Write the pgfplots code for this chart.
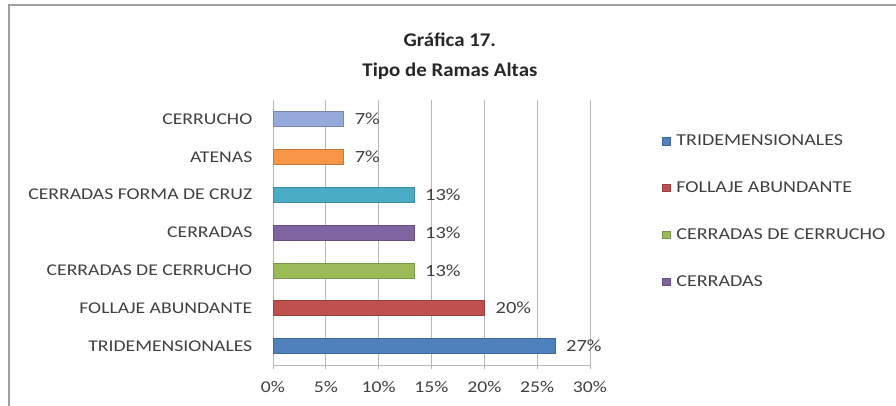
\documentclass[border=0pt]{standalone}
\usepackage{pgfplots}
\pgfplotsset{compat=1.18}
\usepackage{fontspec}
\setmainfont{Carlito}
\newfontfamily\lbl{Carlito}[FakeStretch=1.2]
\newfontfamily\ttl{Carlito}[FakeStretch=1.08]
\definecolor{c1}{HTML}{4F81BD}
\definecolor{c2}{HTML}{C0504D}
\definecolor{c3}{HTML}{9BBB59}
\definecolor{c4}{HTML}{8064A2}
\definecolor{c5}{HTML}{4BACC6}
\definecolor{c6}{HTML}{F79646}
\definecolor{c7}{HTML}{95A9DB}
\definecolor{txt}{HTML}{404040}
\definecolor{gridc}{HTML}{B8B8B8}
\begin{document}
\begin{tikzpicture}
\useasboundingbox (0,0) rectangle (672pt,304.5pt);
\draw[gray!75, line width=1.5pt] (6.75pt,0) -- (6.75pt,300.75pt) -- (672pt,300.75pt);
\begin{axis}[
  at={(204.75pt,30.75pt)}, anchor=south west,
  scale only axis, width=237.75pt, height=198.75pt,
  xbar, bar width=11.25pt, bar shift=0pt,
  xmin=0, xmax=30, ymin=-0.5, ymax=6.5,
  xtick={0,5,...,30},
  xticklabel={\pgfmathprintnumber{\tick}\%},
  /pgf/number format/assume math mode=true,
  ytick={0,...,6},
  yticklabels={TRIDEMENSIONALES,FOLLAJE ABUNDANTE,CERRADAS DE CERRUCHO,CERRADAS,CERRADAS FORMA DE CRUZ,ATENAS,CERRUCHO},
  xmajorgrids, major grid style={gridc, line width=0.6pt},
  axis line style={gridc, line width=0.6pt},
  axis x line*=bottom, axis y line*=left,
  separate axis lines,
  x axis line style={-}, y axis line style={-},
  tick style={gridc, line width=0.6pt},
  major tick length=3pt,
  ytick style={draw=none},
  xtick align=outside,
  tick label style={font=\lbl\fontsize{12.3pt}{14pt}\selectfont, text=txt},
  yticklabel style={xshift=-9pt},
  xticklabel style={yshift=-5.5pt},
  nodes near coords={\pgfmathprintnumber[fixed,precision=0]{\pgfplotspointmeta}\%},
  nodes near coords style={font=\lbl\fontsize{12.8pt}{14pt}\selectfont, text=txt, anchor=west, xshift=5pt},
  point meta=explicit,
  title={Gráfica 17.\\Tipo de Ramas Altas},
  title style={at={(0.558,1)}, anchor=south, align=center, font=\ttl\bfseries\fontsize{14.5pt}{22.5pt}\selectfont, text=black!85, yshift=5.5pt},
  legend style={at={(1.215,0.89)}, anchor=north west, draw=none, fill=none,
    font=\lbl\fontsize{12.5pt}{14pt}\selectfont, text=txt, row sep=21.5pt,
    /tikz/every odd column/.append style={column sep=2.5pt}},
  legend cell align=left,
  legend image code/.code={\fill[#1] (0pt,-2.8pt) rectangle (5.6pt,2.8pt);},
]
\addplot[fill=c1, draw=c1!80!black] coordinates {(26.67,0) [26.67]};
\addlegendentry{TRIDEMENSIONALES}
\addplot[fill=c2, draw=c2!80!black] coordinates {(20,1) [20]};
\addlegendentry{FOLLAJE ABUNDANTE}
\addplot[fill=c3, draw=c3!80!black] coordinates {(13.33,2) [13.33]};
\addlegendentry{CERRADAS DE CERRUCHO}
\addplot[fill=c4, draw=c4!80!black] coordinates {(13.33,3) [13.33]};
\addlegendentry{CERRADAS}
\addplot[fill=c5, draw=c5!80!black, forget plot] coordinates {(13.33,4) [13.33]};
\addplot[fill=c6, draw=c6!80!black, forget plot] coordinates {(6.67,5) [6.67]};
\addplot[fill=c7, draw=c7!80!black, forget plot] coordinates {(6.67,6) [6.67]};
\end{axis}
\end{tikzpicture}
\end{document}
